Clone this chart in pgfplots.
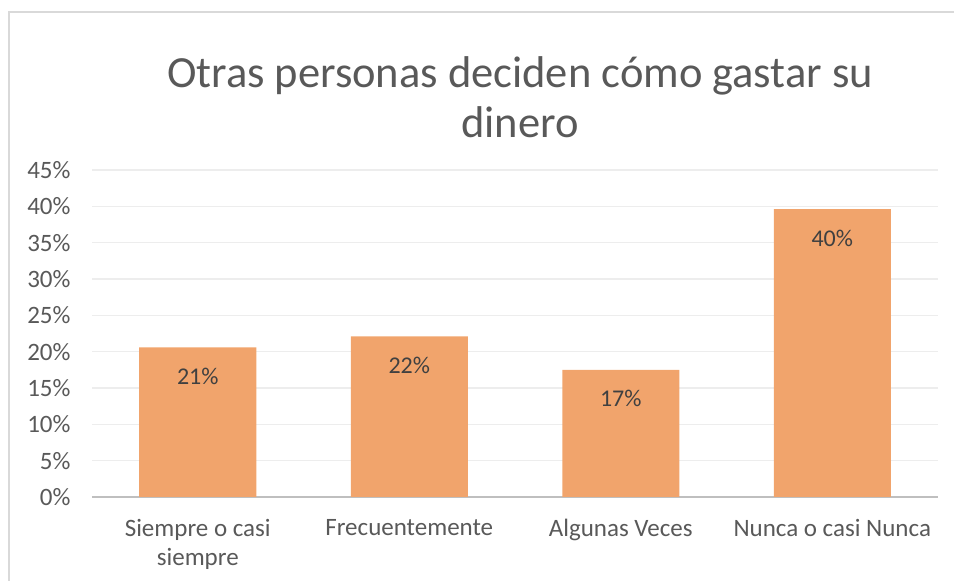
\documentclass[border=0pt]{standalone}
\usepackage{pgfplots}
\pgfplotsset{compat=1.18}
\usepackage{fontspec}
\setmainfont{Carlito}
\definecolor{barc}{HTML}{F1A46C}
\definecolor{txt}{HTML}{595959}
\definecolor{lbl}{HTML}{404040}
\definecolor{gridc}{HTML}{EDEDED}
\definecolor{axc}{HTML}{BFBFBF}
\definecolor{borderc}{HTML}{D9D9D9}
\begin{document}
\begin{tikzpicture}[x=1pt,y=1pt]
\useasboundingbox (0,0) rectangle (954,581);
\draw[borderc,line width=1.2pt] (9,0) -- (9,569) -- (954,569);
\node[align=center,text=txt,font=\fontsize{44.5}{50}\selectfont] at (520,484) {Otras personas deciden cómo gastar su\\dinero};
\begin{axis}[
  at={(92pt,84pt)}, anchor=south west,
  scale only axis, width=846pt, height=327pt,
  xmin=-0.5, xmax=3.5, ymin=0, ymax=45,
  ybar, bar width=117pt, bar shift=0pt,
  xtick={0,1,2,3},
  xticklabels={{Siempre o casi\\siempre},Frecuentemente,Algunas Veces,Nunca o casi Nunca},
  xticklabel style={align=center,font=\fontsize{25}{29}\selectfont,text=txt,yshift=-19pt},
  ytick={0,5,...,45},
  yticklabel={\pgfmathprintnumber{\tick}\%},
  yticklabel style={font=\fontsize{25}{27}\selectfont,text=txt,xshift=-18pt},
  /pgf/number format/assume math mode=true,
  major tick length=0pt,
  ymajorgrids, grid style={gridc,line width=1.2pt},
  axis x line*=bottom, axis y line*=left,
  y axis line style={draw=none},
  x axis line style={axc,line width=2.5pt,-},
  point meta=explicit symbolic,
  nodes near coords,
  every node near coord/.append style={anchor=center,yshift=-29pt,font=\fontsize{24}{27}\selectfont,text=lbl},
]
\addplot[fill=barc,draw=none] coordinates {(0,20.6) [21\%] (1,22.1) [22\%] (2,17.5) [17\%] (3,39.6) [40\%]};
\end{axis}
\end{tikzpicture}
\end{document}
